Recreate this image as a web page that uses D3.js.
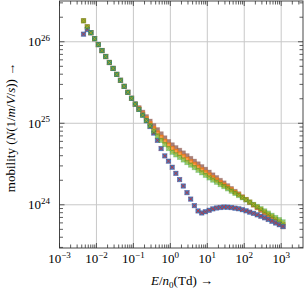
<!DOCTYPE html>
<html>
<head>
<meta charset="utf-8">
<script src="https://cdn.jsdelivr.net/npm/d3@7"></script>
<style>
  body { margin: 0; background: #fff; }
  svg { display: block; font-family: "Liberation Serif", "DejaVu Serif", serif; }
</style>
</head>
<body>
<div id="chart"></div>
<script>
// reduced field E/n0 in Td
var eField = [0.00447, 0.00562, 0.00708, 0.00891, 0.0112, 0.0141, 0.0178, 0.0224, 0.0282, 0.0355,
  0.0447, 0.0562, 0.0708, 0.0891, 0.112, 0.141, 0.178, 0.224, 0.282, 0.355,
  0.447, 0.562, 0.708, 0.891, 1.12, 1.41, 1.78, 2.24, 2.82, 3.55,
  4.47, 5.62, 7.08, 8.91, 11.2, 14.1, 17.8, 22.4, 28.2, 35.5,
  44.7, 56.2, 70.8, 89.1, 112, 141, 178, 224, 282, 355,
  447, 562, 708, 891, 1122];

// low field part, shared by all curves
var lowField = [1.807e26, 1.524e26, 1.288e26, 1.089e26, 9.23e25, 7.80e25, 6.59e25, 5.57e25, 4.71e25, 3.98e25,
  3.37e25, 2.84e25, 2.40e25, 2.03e25, 1.72e25];
var dipHead = [1.24e26, 1.41e26];

var dipTail = [1.479e25, 1.259e25, 1.072e25, 9.12e24, 7.59e24, 6.17e24, 4.90e24, 3.98e24, 3.43e24, 2.89e24,
  2.43e24, 2.04e24, 1.70e24, 1.41e24, 1.175e24, 9.77e23, 8.41e23, 7.94e23, 8.22e23, 8.57e23,
  8.91e23, 9.14e23, 9.27e23, 9.38e23, 9.35e23, 9.25e23, 9.10e23, 8.93e23, 8.71e23, 8.43e23,
  8.13e23, 7.85e23, 7.53e23, 7.24e23, 6.92e23, 6.61e23, 6.28e23, 5.98e23, 5.69e23, 5.43e23];
var greenTail = [1.479e25, 1.259e25, 1.084e25, 9.33e24, 8.04e24, 7.00e24, 6.17e24, 5.50e24, 4.90e24, 4.42e24,
  4.10e24, 3.82e24, 3.55e24, 3.30e24, 3.07e24, 2.86e24, 2.65e24, 2.47e24, 2.30e24, 2.14e24,
  2.01e24, 1.89e24, 1.77e24, 1.67e24, 1.57e24, 1.47e24, 1.38e24, 1.30e24, 1.22e24, 1.15e24,
  1.08e24, 1.01e24, 9.53e23, 8.95e23, 8.41e23, 7.91e23, 7.43e23, 6.98e23, 6.56e23, 6.17e23];
var orangeTail = [1.514e25, 1.312e25, 1.143e25, 9.95e24, 8.67e24, 7.64e24, 6.76e24, 6.03e24, 5.41e24, 4.90e24,
  4.54e24, 4.22e24, 3.92e24, 3.63e24, 3.37e24, 3.13e24, 2.90e24, 2.69e24, 2.50e24, 2.32e24,
  2.16e24, 2.02e24, 1.88e24, 1.75e24, 1.64e24, 1.53e24, 1.42e24, 1.33e24, 1.24e24, 1.16e24,
  1.08e24, 1.00e24, 9.37e23, 8.75e23, 8.15e23, 7.60e23, 7.10e23, 6.62e23, 6.17e23, 5.75e23];
var brownTail = [1.549e25, 1.365e25, 1.202e25, 1.059e25, 9.33e24, 8.32e24, 7.41e24, 6.61e24, 5.96e24, 5.43e24,
  5.01e24, 4.66e24, 4.32e24, 3.99e24, 3.70e24, 3.42e24, 3.17e24, 2.93e24, 2.72e24, 2.51e24,
  2.32e24, 2.15e24, 1.99e24, 1.85e24, 1.71e24, 1.58e24, 1.46e24, 1.36e24, 1.25e24, 1.16e24,
  1.07e24, 9.95e23, 9.20e23, 8.53e23, 7.89e23, 7.31e23, 6.76e23, 6.27e23, 5.79e23, 5.37e23];

var xTicks = [1e-3, 1e-2, 1e-1, 1e0, 1e1, 1e2, 1e3];
var yTicks = [1e24, 1e25, 1e26];

var dip = dipHead.concat(lowField.slice(2), dipTail);
var green = lowField.concat(greenTail);
var orange = lowField.concat(orangeTail);
var brown = lowField.concat(brownTail);

var series = [
  {values: brown, color: "#8c564b", marker: "square", op: 0.75},
  {values: orange, color: "#ff7f0e", marker: "square", op: 0.75},
  {values: dip, color: "#9467bd", marker: "square", op: 0.75},
  {values: dip, color: "#1f77b4", marker: "square", op: 0.75},
  {values: dip, color: "#d62728", marker: "cross", op: 0.75},
  {values: green, color: "#2ca02c", marker: "square", op: 0.55},
  {values: green, color: "#bcbd22", marker: "cross", op: 0.6}
];

var W = 308, H = 291;
var pLeft = 59.5, pRight = 303, pTop = 1, pBottom = 248;

var svg = d3.select("#chart").append("svg")
  .attr("width", W).attr("height", H);

var x = d3.scaleLog().domain([1e-3, Math.pow(10, 3.59)]).range([pLeft, pRight]);
var y = d3.scaleLog().domain([Math.pow(10, 23.47), Math.pow(10, 26.5)]).range([pBottom, pTop]);

//grid
var grid = svg.append("g").attr("stroke", "#c8c8c8").attr("stroke-width", 1);
grid.selectAll("line.gx").data(xTicks.slice(1)).enter().append("line")
  .attr("x1", function(d){ return x(d); }).attr("x2", function(d){ return x(d); })
  .attr("y1", pTop).attr("y2", pBottom);
grid.selectAll("line.gy").data(yTicks).enter().append("line")
  .attr("y1", function(d){ return y(d); }).attr("y2", function(d){ return y(d); })
  .attr("x1", pLeft).attr("x2", pRight);

//minor ticks
var xMinor = [], yMinor = [];
for (var e = -3; e <= 3; e++) for (var k = 2; k < 10; k++) {
  var v = k * Math.pow(10, e);
  if (v < x.domain()[1]) xMinor.push(v);
}
for (var e = 23; e <= 26; e++) for (var k = 2; k < 10; k++) {
  var v = k * Math.pow(10, e);
  if (v > y.domain()[0] && v < y.domain()[1]) yMinor.push(v);
}

var ticks = svg.append("g").attr("stroke", "#333").attr("stroke-width", 0.8);
function xTickMarks(data, len) {
  ticks.selectAll(null).data(data).enter().append("line")
    .attr("x1", function(d){ return x(d); }).attr("x2", function(d){ return x(d); })
    .attr("y1", pBottom).attr("y2", pBottom - len);
  ticks.selectAll(null).data(data).enter().append("line")
    .attr("x1", function(d){ return x(d); }).attr("x2", function(d){ return x(d); })
    .attr("y1", pTop).attr("y2", pTop + len);
}
function yTickMarks(data, len) {
  ticks.selectAll(null).data(data).enter().append("line")
    .attr("y1", function(d){ return y(d); }).attr("y2", function(d){ return y(d); })
    .attr("x1", pLeft).attr("x2", pLeft + len);
  ticks.selectAll(null).data(data).enter().append("line")
    .attr("y1", function(d){ return y(d); }).attr("y2", function(d){ return y(d); })
    .attr("x1", pRight).attr("x2", pRight - len);
}
xTickMarks(xTicks, 5); xTickMarks(xMinor, 3.5);
yTickMarks(yTicks, 5); yTickMarks(yMinor, 3.5);

//markers
series.forEach(function(s){
  var g = svg.append("g");
  var pts = eField.map(function(d, i){ return [x(d), y(s.values[i])]; });
  if (s.marker === "square") {
    g.selectAll("rect").data(pts).enter().append("rect")
      .attr("x", function(d){ return d[0] - 2.2; })
      .attr("y", function(d){ return d[1] - 2.2; })
      .attr("width", 4.4).attr("height", 4.4)
      .style("fill", s.color).style("fill-opacity", s.op)
      .style("stroke", s.color).style("stroke-opacity", 0.3).style("stroke-width", 0.8);
  } else {
    g.selectAll("path").data(pts).enter().append("path")
      .attr("d", function(d){
        return "M" + (d[0]-2) + "," + (d[1]-2) + "L" + (d[0]+2) + "," + (d[1]+2) +
          "M" + (d[0]-2) + "," + (d[1]+2) + "L" + (d[0]+2) + "," + (d[1]-2);
      })
      .style("stroke", s.color).style("stroke-width", 1).style("stroke-opacity", s.op)
      .style("fill", "none");
  }
});

//frame
svg.append("rect")
  .attr("x", pLeft).attr("y", pTop).attr("width", pRight - pLeft).attr("height", pBottom - pTop)
  .style("fill", "none").style("stroke", "#333").style("stroke-width", 0.9);

//tick labels
var sup = function(e){ return (e < 0 ? "\u2212" : "") + Math.abs(e); };
xTicks.forEach(function(d){
  var t = svg.append("text").attr("x", x(d)).attr("y", 263)
    .attr("text-anchor", "middle").style("font-size", "13px");
  t.append("tspan").text("10");
  t.append("tspan").attr("dy", -5.5).style("font-size", "9px").text(sup(Math.round(Math.log10(d))));
});
yTicks.forEach(function(d){
  var t = svg.append("text").attr("x", 50).attr("y", y(d) + 4.5)
    .attr("text-anchor", "end").style("font-size", "13px");
  t.append("tspan").text("10");
  t.append("tspan").attr("dy", -5.5).style("font-size", "9px").text(Math.round(Math.log10(d)));
});

//axis labels
var xl = svg.append("text").attr("x", 182).attr("y", 285)
  .attr("text-anchor", "middle").style("font-size", "13px");
xl.append("tspan").style("font-style", "italic").text("E");
xl.append("tspan").text("/");
xl.append("tspan").style("font-style", "italic").text("n");
xl.append("tspan").attr("dy", 2.5).style("font-size", "9px").text("0");
xl.append("tspan").attr("dy", -2.5).text("(Td) \u2192");

var yl = svg.append("text")
  .attr("transform", "translate(15," + ((pTop + pBottom) / 2 + 3) + ") rotate(-90)")
  .attr("text-anchor", "middle").style("font-size", "13px");
yl.append("tspan").text("mobility (");
yl.append("tspan").style("font-style", "italic").text("N");
yl.append("tspan").text("(1/");
yl.append("tspan").style("font-style", "italic").text("m");
yl.append("tspan").text("/");
yl.append("tspan").style("font-style", "italic").text("V");
yl.append("tspan").text("/");
yl.append("tspan").style("font-style", "italic").text("s");
yl.append("tspan").text("))  \u2192");
</script>
</body>
</html>
